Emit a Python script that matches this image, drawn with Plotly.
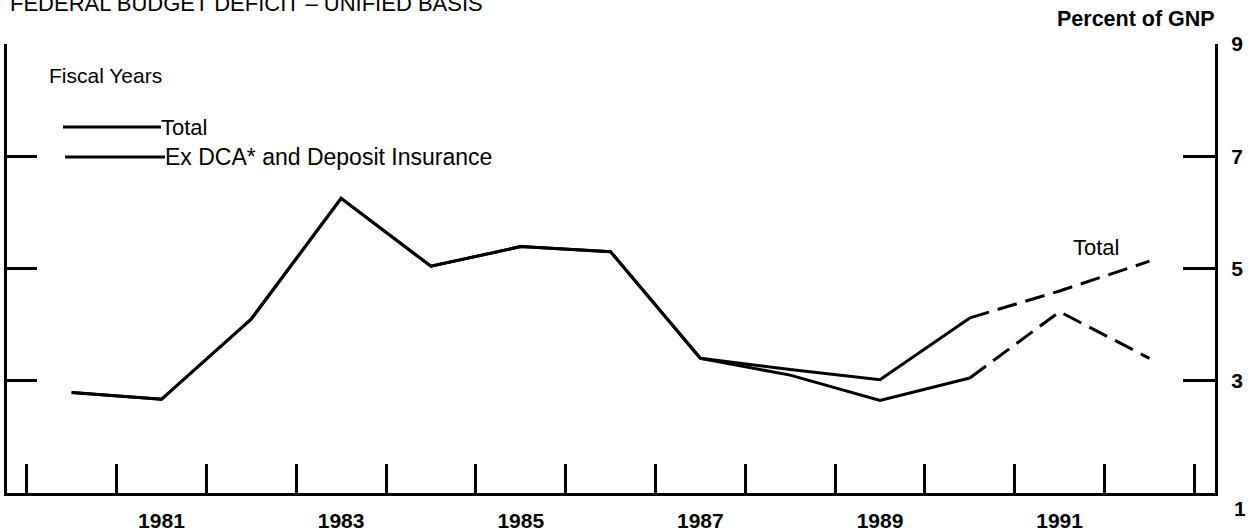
import plotly.graph_objects as go

# ---- data ----
years = [1980, 1981, 1982, 1983, 1984, 1985, 1986, 1987, 1988, 1989, 1990, 1991, 1992]
total = [2.79, 2.67, 4.10, 6.25, 5.04, 5.39, 5.30, 3.40, 3.20, 3.02, 4.12, 4.60, 5.13]
ex_dca = [2.79, 2.67, 4.10, 6.25, 5.04, 5.39, 5.30, 3.40, 3.10, 2.65, 3.05, 4.23, 3.40]
n_actual = 11  # 1980-1990 actual (solid), 1990-1992 projected (dashed)
year_labels = [1981, 1983, 1985, 1987, 1989, 1991]
year_bounds = [y - 0.5 for y in years] + [years[-1] + 0.5]
y_ticks = [3, 5, 7, 9]

FONT = "Liberation Sans, Arial, sans-serif"
W, H = 1253, 531
ML, MR, MT, MB = 7, 38, 44, 38
PW, PH = W - ML - MR, H - MT - MB


def px_x(x):
    return (x - ML) / PW


def px_y(y):
    return 1 - (y - MT) / PH


fig = go.Figure()
line = dict(color="black", width=3)
dash = dict(color="black", width=3, dash="20px,9px")

fig.add_trace(go.Scatter(x=years[:n_actual], y=total[:n_actual], mode="lines", line=line,
                         name="Total", showlegend=False))
fig.add_trace(go.Scatter(x=years[n_actual - 1:], y=total[n_actual - 1:], mode="lines", line=dash,
                         name="Total (proj.)", showlegend=False))
fig.add_trace(go.Scatter(x=years[:n_actual], y=ex_dca[:n_actual], mode="lines", line=line,
                         name="Ex DCA* and Deposit Insurance", showlegend=False, yaxis="y2"))
fig.add_trace(go.Scatter(x=years[n_actual - 1:], y=ex_dca[n_actual - 1:], mode="lines", line=dash,
                         name="Ex DCA (proj.)", showlegend=False, yaxis="y2"))

fig.update_layout(
    template="none",
    width=W, height=H,
    margin=dict(l=ML, r=MR, t=MT, b=MB, autoexpand=False),
    paper_bgcolor="white", plot_bgcolor="white",
    showlegend=False,
    xaxis=dict(
        range=[1979.28, 1992.73], automargin=False,
        tickvals=year_labels, ticktext=[str(y) for y in year_labels],
        ticks="", showgrid=False, zeroline=False,
        showline=True, linewidth=3, linecolor="black",
        tickfont=dict(family=FONT, size=21, color="black", weight="bold"),
        ticklabelstandoff=7,
        minor=dict(tickvals=year_bounds, ticks="inside", ticklen=29, tickwidth=3,
                   tickcolor="black", showgrid=False),
    ),
    yaxis=dict(
        range=[1, 9], automargin=False, tickvals=y_ticks, ticks="inside", ticklen=30,
        tickwidth=3, tickcolor="black", showticklabels=False, showgrid=False,
        zeroline=False, showline=True, linewidth=3, linecolor="black",
    ),
    yaxis2=dict(
        range=[1, 9], automargin=False, matches="y", overlaying="y", side="right",
        tickvals=y_ticks, ticktext=[str(v) for v in y_ticks],
        ticks="inside", ticklen=32, tickwidth=3, tickcolor="black",
        showgrid=False, zeroline=False,
        showline=True, linewidth=3, linecolor="black",
        tickfont=dict(family=FONT, size=21, color="black", weight="bold"),
        ticklabelstandoff=9,
    ),
)

annos = [
    dict(text="FEDERAL BUDGET DEFICIT – UNIFIED BASIS", xref="paper", yref="paper",
         x=0, y=px_y(3), xanchor="left", yanchor="middle", xshift=1,
         font=dict(family=FONT, size=22, color="black")),
    dict(text="<b>Percent of GNP</b>", xref="paper", yref="paper",
         x=1, y=px_y(19), xanchor="right", yanchor="middle", xshift=2,
         font=dict(family=FONT, size=21.5, color="black")),
    dict(text="Fiscal Years", xref="paper", yref="paper",
         x=px_x(47), y=px_y(76), xanchor="left", yanchor="middle",
         font=dict(family=FONT, size=21, color="black")),
    dict(text="Total", xref="paper", yref="paper",
         x=px_x(161), y=px_y(127), xanchor="left", yanchor="middle", xshift=-2,
         font=dict(family=FONT, size=22, color="black")),
    dict(text="Ex DCA* and Deposit Insurance", xref="paper", yref="paper",
         x=px_x(165), y=px_y(157), xanchor="left", yanchor="middle", xshift=-2,
         font=dict(family=FONT, size=23, color="black")),
    dict(text="Total", xref="x", yref="y", x=1991.41, y=5.37,
         xanchor="center", yanchor="middle",
         font=dict(family=FONT, size=22, color="black")),
    dict(text="<b>1</b>", xref="paper", yref="y", x=px_x(1232), y=1,
         xanchor="left", yanchor="middle", yshift=-15,
         font=dict(family=FONT, size=21, color="black")),
]
for a in annos:
    a.setdefault("showarrow", False)
    fig.add_annotation(**a)

# legend sample lines
for y_px, x0, x1 in [(127, 63, 161), (157, 65, 165)]:
    fig.add_shape(type="line", xref="paper", yref="paper",
                  x0=px_x(x0), x1=px_x(x1), y0=px_y(y_px), y1=px_y(y_px),
                  line=dict(color="black", width=3))

fig.write_html("out.html", config={"displayModeBar": False},
               post_script="document.body.style.margin='0';document.body.style.overflow='hidden';")
